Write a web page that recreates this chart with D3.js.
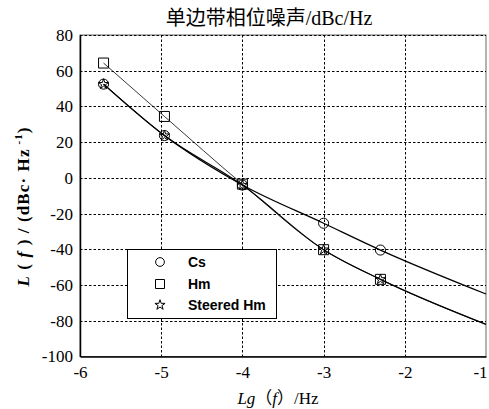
<!DOCTYPE html>
<html><head><meta charset="utf-8">
<script src="https://cdn.jsdelivr.net/npm/d3@7"></script>
<style>body{margin:0;background:#fff}</style>
</head><body>
<svg id="c" width="489" height="409"></svg>
<script>
// ---- data ----
const lgf = [-5.71, -4.96, -4.0, -3.0, -2.3];   // marker positions
const lineEndX = -1;                             // where fitted curves end
const cs = [52.5, 23.7, -4.0, -25.4, -40.4];
const csEnd = -65;
const hm = [64.3, 34.4, -3.5, -40.2, -56.8];
const hmEnd = -82;
const steered = [52.5, 23.7, -4.0, -40.2, -56.8];
const steeredEnd = -82;
const xTicks = [-6, -5, -4, -3, -2, -1];
const yTicks = [80, 60, 40, 20, 0, -20, -40, -60, -80, -100];
const legendNames = ["Cs", "Hm", "Steered Hm"];

const svg = d3.select("#c");
const x = d3.scaleLinear().domain([-6, -1]).range([80, 486]);
const y = d3.scaleLinear().domain([-100, 80]).range([356.5, 35]);
const serif = "'Liberation Serif','Times New Roman','Noto Sans CJK SC',serif";

// frame
svg.append("rect").attr("x", x(-6)).attr("y", y(80)).attr("width", x(-1) - x(-6)).attr("height", y(-100) - y(80))
  .attr("fill", "none").attr("stroke", "#666").attr("stroke-width", 1);

// grid
const grid = svg.append("g").attr("stroke", "#000").attr("stroke-width", 1).attr("stroke-dasharray", "2.5,2");
grid.selectAll("line.h").data(yTicks.filter(d => d > -100)).join("line")
  .attr("x1", x(-6)).attr("x2", x(-1)).attr("y1", d => Math.round(y(d)) + 0.5).attr("y2", d => Math.round(y(d)) + 0.5);
grid.selectAll("line.v").data(xTicks.filter(d => d > -6 && d < -1)).join("line")
  .attr("class", "v")
  .attr("y1", y(80)).attr("y2", y(-100)).attr("x1", d => Math.round(x(d)) + 0.5).attr("x2", d => Math.round(x(d)) + 0.5);

// axes
const ax = svg.append("g").attr("transform", `translate(0,${y(-100)})`)
  .call(d3.axisBottom(x).tickValues(xTicks).tickSize(0).tickPadding(9).tickFormat(d => String(d)));
const ay = svg.append("g").attr("transform", `translate(${x(-6)},0)`)
  .call(d3.axisLeft(y).tickValues(yTicks).tickSize(0).tickPadding(7).tickFormat(d => String(d)));
[ax, ay].forEach(g => {
  g.attr("font-family", null).attr("font-size", null);
  g.select(".domain").attr("stroke", "#000").attr("stroke-width", 1.5);
  g.selectAll("text").style("font-family", serif).style("font-size", "17px").attr("fill", "#000");
});
ax.selectAll(".tick text").filter(d => d === -1).attr("dx", -6);

// curves
const line = d3.line().x(d => x(d[0])).y(d => y(d[1])).curve(d3.curveMonotoneX);
const mk = (vals, end) => lgf.map((v, i) => [v, vals[i]]).concat([[lineEndX, end]]);
svg.append("path").attr("d", line(mk(hm, hmEnd))).attr("fill", "none").attr("stroke", "#222").attr("stroke-width", 0.9);
svg.append("path").attr("d", line(mk(cs, csEnd))).attr("fill", "none").attr("stroke", "#000").attr("stroke-width", 1.3);
svg.append("path").attr("d", line(mk(steered, steeredEnd))).attr("fill", "none").attr("stroke", "#000").attr("stroke-width", 1.2);

// markers
const symCircle = d3.symbol(d3.symbolCircle, 80)();
const symSquare = d3.symbol(d3.symbolSquare, 100)();
const symStar = d3.symbol(d3.symbolStar, 32)();
const drawMarks = (vals, sym) => svg.append("g").selectAll("path").data(vals).join("path")
  .attr("d", sym).attr("transform", (d, i) => `translate(${x(lgf[i])},${y(d)})`)
  .attr("fill", "none").attr("stroke", "#000").attr("stroke-width", 1);
drawMarks(cs, symCircle);
drawMarks(hm, symSquare);
drawMarks(steered, symStar);

// legend
const lg = svg.append("g");
lg.append("rect").attr("x", 127.5).attr("y", 249.5).attr("width", 149).attr("height", 69)
  .attr("fill", "#fff").attr("stroke", "#000").attr("stroke-width", 1);
const ly = [262, 284, 305];
legendNames.forEach((n, i) => {
  lg.append("path").attr("d", i === 0 ? d3.symbol(d3.symbolCircle, 60)() : i === 1 ? d3.symbol(d3.symbolSquare, 81)() : symStar)
    .attr("transform", `translate(160,${ly[i]})`).attr("fill", "none").attr("stroke", "#000").attr("stroke-width", 1);
  lg.append("text").attr("x", 188).attr("y", ly[i] + 5).text(n)
    .style("font-family", "'Liberation Sans',Arial,sans-serif").attr("font-weight", "bold").attr("font-size", 14);
});

// title
svg.append("text").attr("x", 269).attr("y", 25).attr("text-anchor", "middle")
  .style("font-family", serif).attr("font-size", 20).text("单边带相位噪声/dBc/Hz");

// x title
const xt = svg.append("text").attr("x", 278).attr("y", 404).attr("text-anchor", "middle")
  .style("font-family", serif).attr("font-size", 17);
xt.append("tspan").attr("font-style", "italic").text("Lg");
xt.append("tspan").text("（");
xt.append("tspan").attr("font-style", "italic").text("f");
xt.append("tspan").text("）/Hz");

// y title
const yt = svg.append("text").attr("transform", "translate(29,207) rotate(-90)").attr("text-anchor", "middle")
  .style("font-family", serif).attr("font-size", 17).attr("font-weight", "bold")
  .attr("textLength", 159).attr("lengthAdjust", "spacing");
yt.append("tspan").attr("font-style", "italic").text("L");
yt.append("tspan").text(" ( ");
yt.append("tspan").attr("font-style", "italic").text("f");
yt.append("tspan").text(" ) / (dBc· Hz");
yt.append("tspan").attr("font-size", 11).attr("dy", -7).text(" -1");
yt.append("tspan").attr("dy", 7).text(")");
</script>
</body></html>
